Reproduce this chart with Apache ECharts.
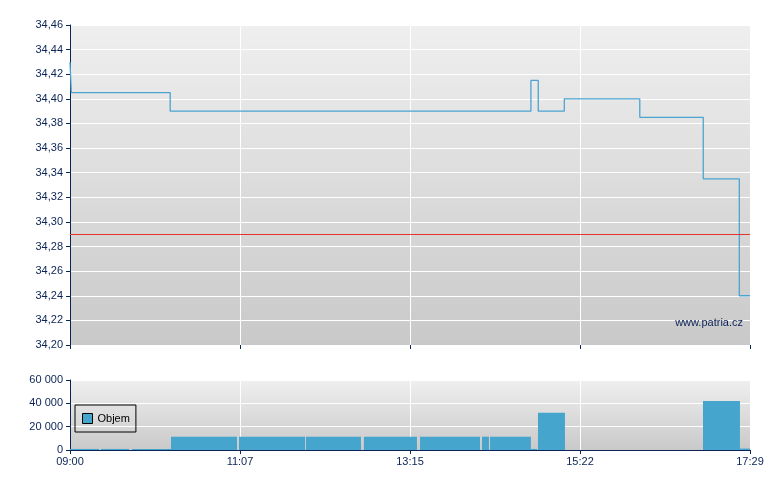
<!DOCTYPE html>
<html>
<head>
<meta charset="utf-8">
<script src="https://cdn.jsdelivr.net/npm/echarts@6/dist/echarts.min.js"></script>
<style>html,body{margin:0;padding:0;background:#fff}#c{width:780px;height:490px}</style>
</head>
<body>
<div id="c"></div>
<script>
// minutes after 09:00
const timeTickLabels = ['09:00', '11:07', '13:15', '15:22', '17:29'];
const priceMinutes = [0, 1, 75, 345, 350.5, 370, 426.5, 474, 501, 509];
const priceValues = [34.43, 34.405, 34.39, 34.415, 34.39, 34.40, 34.385, 34.335, 34.24, 34.24];
const referencePrice = 34.29;
const volStart = [0, 23.2, 46.4, 75.6, 126.5, 176.6, 220, 262, 308.4, 314.4, 345, 350.3, 473.8, 501.5];
const volEnd = [21.7, 44.2, 75.6, 125, 175.9, 217.8, 259.7, 306.9, 313.6, 345, 349.6, 370.5, 501.5, 509];
const volValues = [900, 900, 900, 11400, 11400, 11400, 11400, 11400, 11400, 11400, 900, 32000, 42000, 1200];

const X_MAX = 509, X_INT = 127.25;
const navy = '#0b2356';
const bg = {type: 'linear', x: 0, y: 0, x2: 0, y2: 1, colorStops: [{offset: 0, color: '#efefef'}, {offset: 1, color: '#c9c9c9'}]};
const font = 'Arial, "Liberation Sans", sans-serif';

function xLabel(v) {
  const i = Math.round(v / X_INT);
  return timeTickLabels[i] !== undefined ? timeTickLabels[i] : '';
}

const chart = echarts.init(document.getElementById('c'), null, {renderer: 'canvas'});
chart.setOption({
  animation: false,
  backgroundColor: '#fff',
  textStyle: {fontFamily: font},
  grid: [
    {left: 70, right: 30, top: 25, height: 320, show: true, backgroundColor: bg, borderWidth: 0},
    {left: 70, right: 30, top: 380, height: 70, show: true, backgroundColor: bg, borderWidth: 0}
  ],
  legend: {
    data: ['Objem'],
    left: 75, top: 405,
    orient: 'vertical',
    padding: [8, 6, 8, 7],
    borderColor: '#000', borderWidth: 1,
    itemWidth: 10, itemHeight: 10, itemGap: 5,
    icon: 'rect',
    itemStyle: {borderColor: '#000', borderWidth: 1},
    textStyle: {fontSize: 11, color: '#000', fontFamily: font}
  },
  xAxis: [
    {type: 'value', gridIndex: 0, min: 0, max: X_MAX, interval: X_INT,
     axisLine: {show: false}, axisTick: {show: true, length: 4, lineStyle: {color: navy}},
     axisLabel: {show: false}, splitLine: {show: true, lineStyle: {color: '#fff', width: 1}}},
    {type: 'value', gridIndex: 1, min: 0, max: X_MAX, interval: X_INT,
     axisLine: {show: true, onZero: false, lineStyle: {color: navy, width: 1}},
     axisTick: {show: true, length: 4, lineStyle: {color: navy}},
     axisLabel: {show: true, formatter: xLabel, color: navy, fontSize: 11, margin: 6, fontFamily: font},
     splitLine: {show: true, lineStyle: {color: '#fff', width: 1}}}
  ],
  yAxis: [
    {type: 'value', gridIndex: 0, min: 34.20, max: 34.46, interval: 0.02,
     axisLine: {show: true, lineStyle: {color: navy}},
     axisTick: {show: true, length: 4, lineStyle: {color: navy}},
     axisLabel: {color: navy, fontSize: 11, margin: 7, fontFamily: font,
       formatter: v => v.toFixed(2).replace('.', ',')},
     splitLine: {show: true, lineStyle: {color: '#fff', width: 1}}},
    {type: 'value', gridIndex: 1, min: 0, max: 60000, interval: 20000,
     axisLine: {show: true, lineStyle: {color: navy}},
     axisTick: {show: true, length: 4, lineStyle: {color: navy}},
     axisLabel: {color: navy, fontSize: 11, margin: 7, fontFamily: font,
       formatter: v => String(v).replace(/\B(?=(\d{3})+(?!\d))/g, ' ')},
     splitLine: {show: true, lineStyle: {color: '#fff', width: 1}}}
  ],
  graphic: [
    {type: 'text', right: 37, top: 317, z: 10,
     style: {text: 'www.patria.cz', fill: navy, font: '11px ' + font}}
  ],
  series: [
    {type: 'line', name: 'Cena', xAxisIndex: 0, yAxisIndex: 0, step: 'end', showSymbol: false,
     data: priceMinutes.map((m, i) => [m, priceValues[i]]),
     lineStyle: {color: '#4ba4cf', width: 1.3},
     markLine: {silent: true, symbol: 'none', label: {show: false},
       lineStyle: {color: '#e8322e', type: 'solid', width: 1},
       data: [{yAxis: referencePrice}]}
    },
    {type: 'custom', name: 'Objem', xAxisIndex: 1, yAxisIndex: 1,
     itemStyle: {color: '#46a5cd'},
     data: volStart.map((s, i) => [s, volEnd[i], volValues[i]]),
     encode: {x: [0, 1], y: 2},
     renderItem: function (params, api) {
       const a = api.coord([api.value(0), 0]);
       const b = api.coord([api.value(1), api.value(2)]);
       return {type: 'rect', shape: {x: a[0], y: b[1], width: b[0] - a[0], height: a[1] - b[1]},
               style: {fill: '#46a5cd'}};
     }
    }
  ]
});
</script>
</body>
</html>
